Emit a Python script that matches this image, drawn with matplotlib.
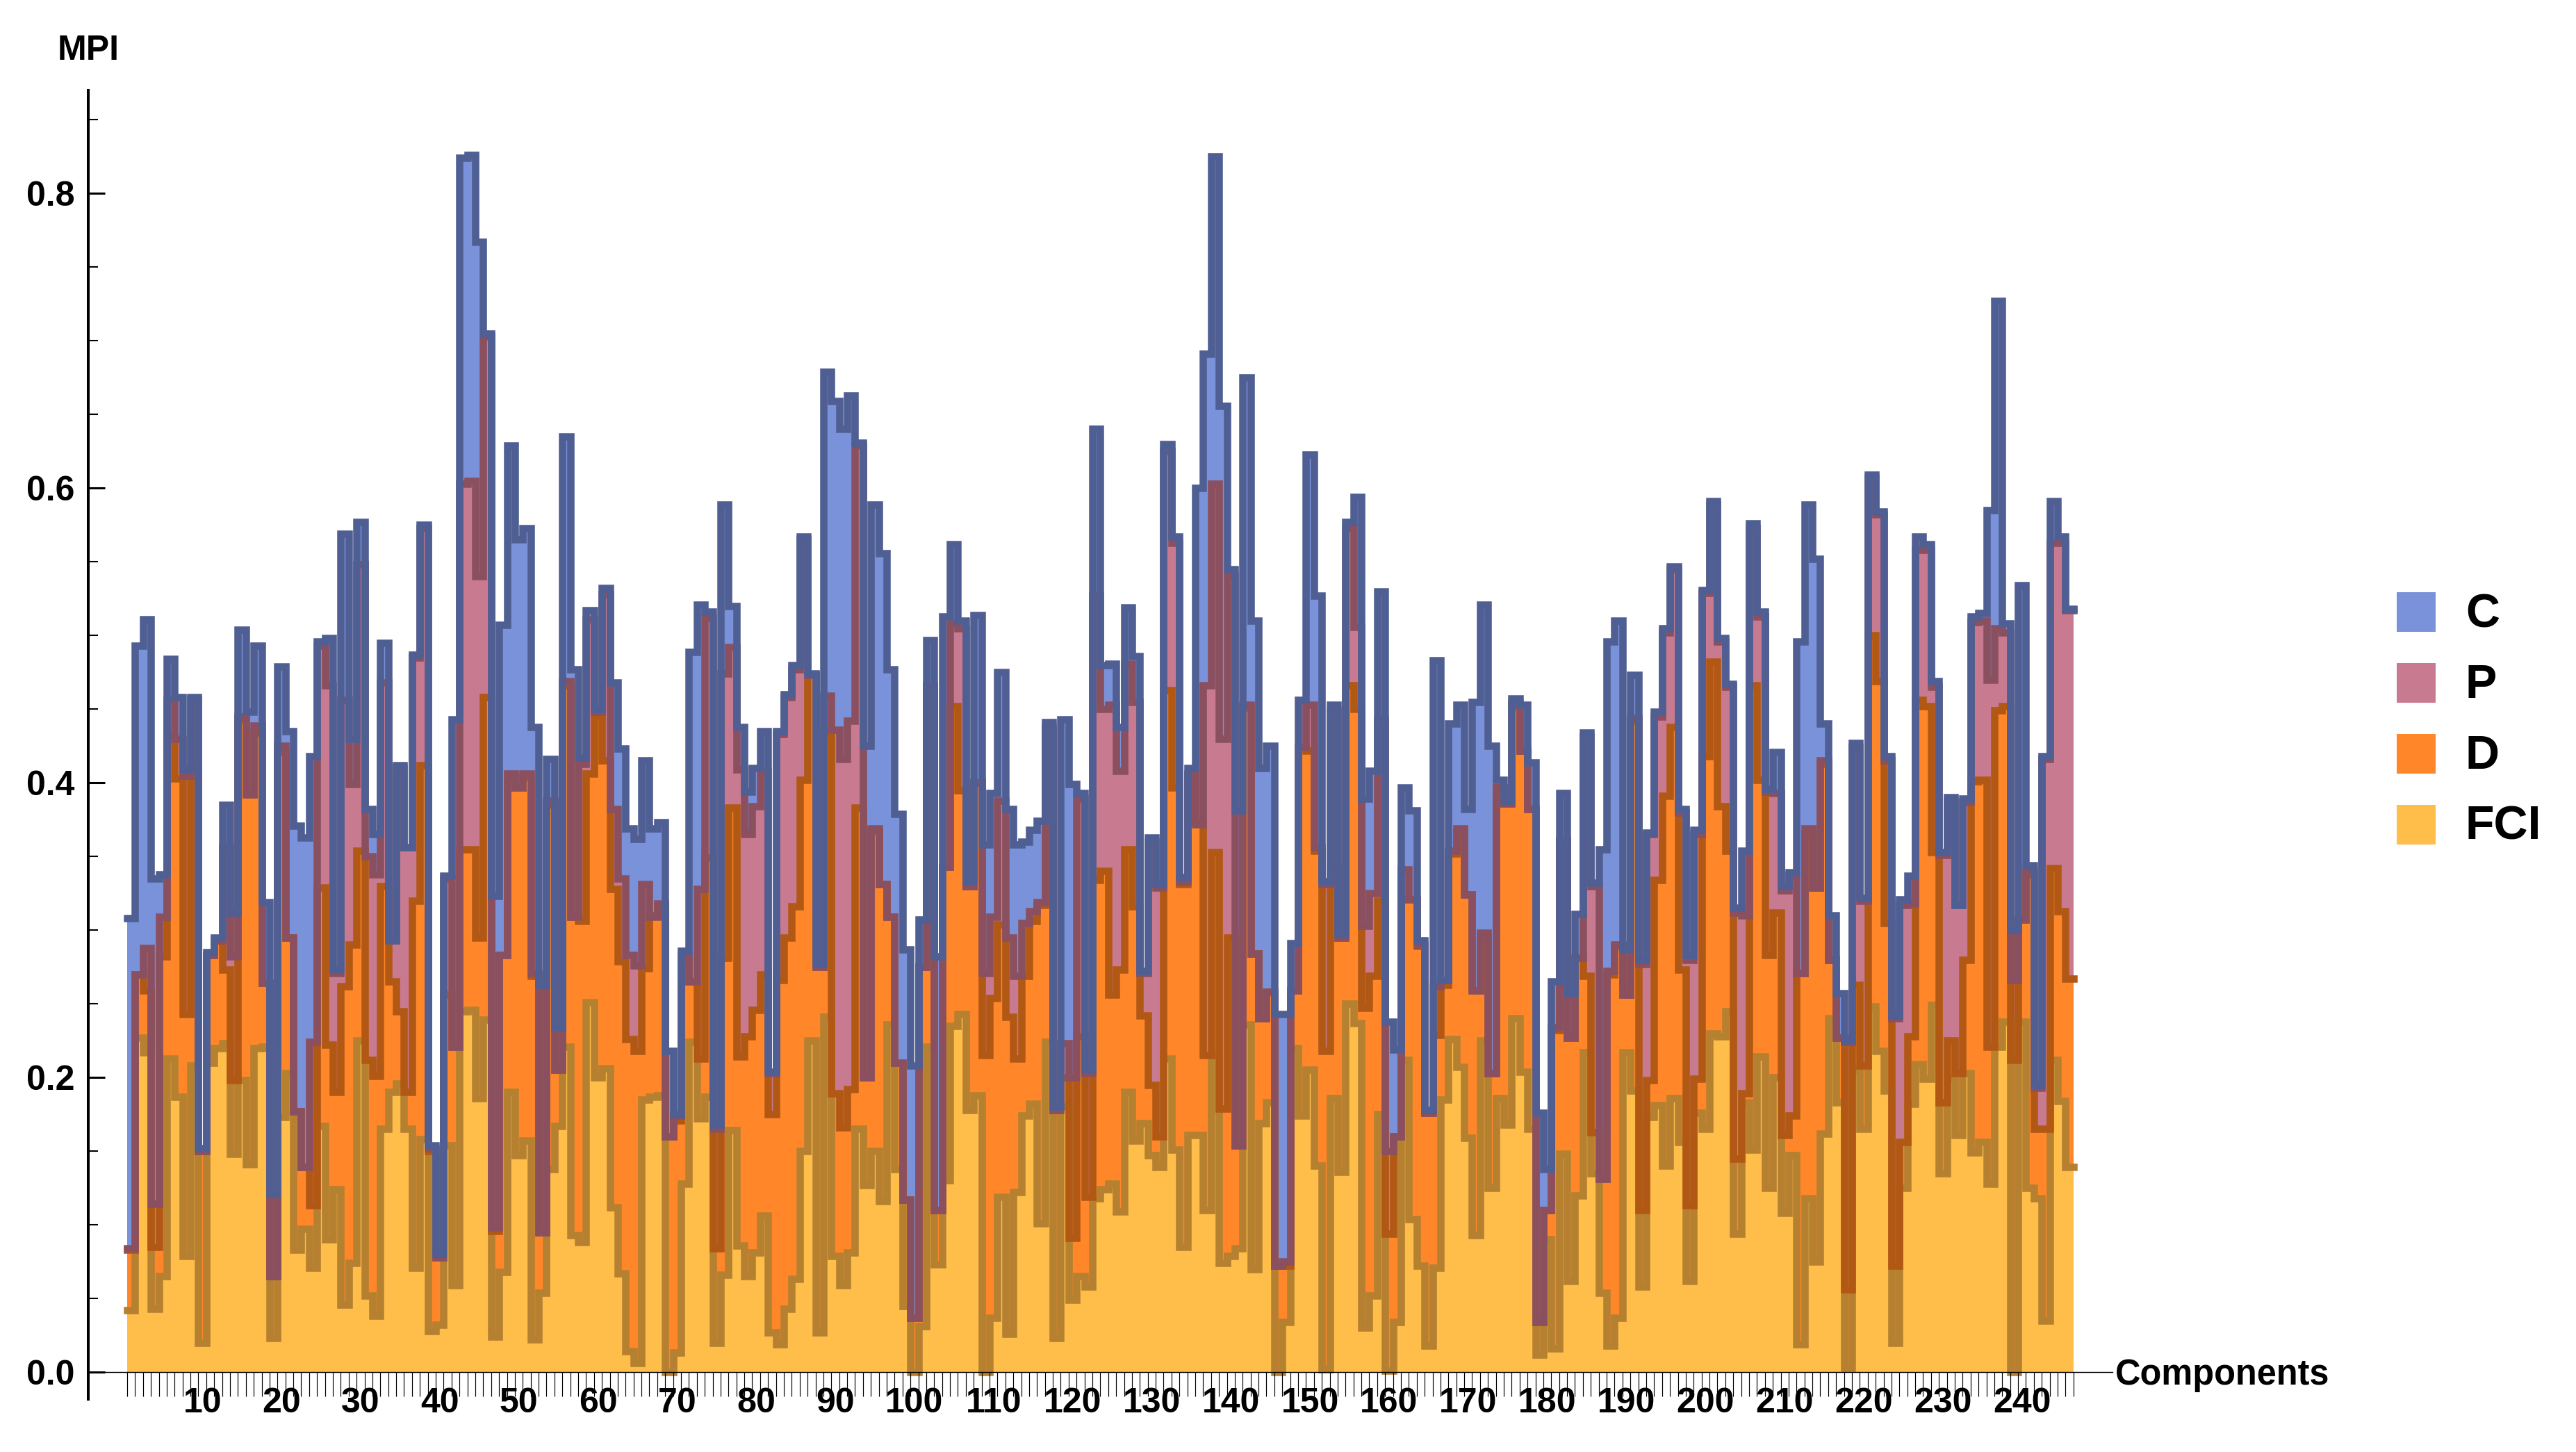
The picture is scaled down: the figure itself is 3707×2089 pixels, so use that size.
import numpy as np
import matplotlib
matplotlib.use("Agg")
import matplotlib.pyplot as plt
from matplotlib.patches import Rectangle

plt.rcParams['font.family'] = ['Liberation Sans', 'DejaVu Sans']
plt.rcParams['font.weight'] = 'bold'

# MPI values for components 1..246, one list per series
C = [.308,.493,.511,.335,.338,.484,.458,.409,.458,.152,
     .285,.295,.385,.312,.504,.448,.493,.319,.121,.479,
     .435,.371,.363,.418,.496,.498,.273,.569,.430,.577,
     .382,.365,.495,.293,.412,.356,.487,.575,.154,.080,
     .337,.443,.824,.826,.767,.705,.323,.507,.629,.565,
     .573,.438,.263,.416,.234,.635,.477,.417,.517,.450,
     .532,.468,.423,.369,.362,.415,.369,.373,.218,.175,
     .286,.489,.521,.516,.168,.589,.520,.438,.394,.410,
     .435,.204,.435,.460,.480,.567,.474,.277,.679,.659,
     .640,.663,.631,.425,.589,.556,.477,.379,.287,.208,
     .307,.497,.282,.513,.562,.510,.333,.514,.358,.393,
     .475,.382,.358,.360,.368,.374,.441,.180,.443,.399,
     .393,.205,.640,.480,.481,.438,.519,.486,.272,.363,
     .331,.630,.567,.336,.410,.600,.691,.825,.656,.545,
     .381,.675,.510,.410,.425,.243,.243,.291,.456,.623,
     .527,.333,.453,.297,.577,.594,.389,.408,.530,.238,
     .219,.397,.381,.293,.178,.483,.266,.440,.453,.382,
     .455,.521,.425,.402,.388,.457,.453,.414,.176,.138,
     .265,.393,.257,.311,.434,.332,.355,.496,.510,.287,
     .473,.280,.366,.448,.505,.547,.382,.283,.368,.531,
     .591,.498,.467,.315,.354,.576,.516,.396,.421,.330,
     .339,.496,.589,.552,.440,.310,.257,.225,.427,.322,
     .609,.584,.418,.242,.321,.337,.567,.562,.469,.353,
     .390,.317,.389,.513,.515,.585,.727,.508,.300,.534,
     .344,.195,.418,.591,.567,.518]

P = [.084,.270,.288,.114,.309,.456,.430,.405,.456,.150,
     .283,.293,.356,.282,.445,.392,.439,.264,.065,.425,
     .295,.177,.139,.224,.493,.466,.271,.456,.399,.548,
     .350,.338,.468,.293,.410,.356,.485,.573,.152,.078,
     .335,.221,.603,.605,.540,.703,.098,.283,.406,.397,
     .406,.271,.095,.388,.205,.469,.309,.413,.511,.448,
     .528,.382,.335,.283,.276,.331,.309,.318,.160,.174,
     .283,.265,.328,.512,.165,.474,.492,.409,.365,.384,
     .408,.203,.433,.458,.477,.565,.473,.275,.459,.436,
     .416,.442,.629,.200,.369,.331,.309,.210,.117,.037,
     .275,.466,.110,.343,.508,.505,.330,.400,.271,.309,
     .388,.295,.269,.305,.313,.319,.438,.178,.223,.200,
     .389,.203,.527,.450,.453,.408,.481,.455,.271,.360,
     .329,.625,.563,.333,.406,.372,.466,.603,.430,.541,
     .154,.453,.284,.240,.258,.072,.075,.259,.424,.453,
     .356,.331,.449,.295,.573,.506,.303,.325,.443,.150,
     .160,.341,.321,.290,.176,.262,.266,.354,.369,.324,
     .259,.298,.203,.397,.386,.454,.422,.382,.034,.110,
     .234,.361,.227,.281,.431,.330,.131,.272,.290,.256,
     .444,.277,.365,.445,.502,.545,.380,.280,.365,.529,
     .589,.496,.465,.312,.310,.573,.513,.394,.393,.327,
     .337,.271,.369,.329,.415,.280,.227,.224,.424,.320,
     .607,.582,.415,.240,.317,.318,.558,.558,.465,.351,
     .388,.317,.387,.509,.510,.470,.505,.502,.266,.307,
     .340,.193,.416,.563,.563,.517]

D = [.083,.270,.259,.085,.282,.432,.403,.243,.408,.150,
     .283,.293,.273,.198,.443,.392,.434,.264,.065,.421,
     .295,.177,.139,.113,.329,.222,.190,.262,.290,.354,
     .212,.201,.330,.265,.245,.190,.320,.412,.150,.078,
     .256,.221,.355,.355,.295,.458,.096,.283,.405,.397,
     .404,.269,.095,.385,.205,.466,.309,.306,.406,.446,
     .415,.328,.279,.226,.218,.274,.310,.317,.160,.171,
     .280,.265,.213,.349,.084,.281,.383,.214,.228,.246,
     .270,.175,.266,.295,.316,.402,.473,.275,.434,.189,
     .166,.192,.383,.200,.367,.331,.309,.210,.117,.037,
     .275,.465,.110,.343,.452,.395,.330,.400,.215,.254,
     .304,.241,.213,.269,.306,.317,.436,.178,.200,.091,
     .228,.119,.334,.340,.256,.273,.355,.316,.242,.195,
     .160,.463,.397,.331,.405,.373,.215,.353,.179,.295,
     .154,.451,.284,.240,.258,.072,.072,.259,.424,.422,
     .354,.218,.343,.295,.466,.450,.247,.269,.320,.094,
     .160,.321,.321,.289,.176,.229,.263,.352,.367,.324,
     .259,.296,.203,.397,.386,.452,.422,.382,.034,.110,
     .232,.361,.227,.281,.269,.163,.131,.270,.289,.256,
     .442,.110,.198,.334,.391,.438,.273,.113,.199,.418,
     .482,.384,.354,.145,.189,.466,.402,.283,.312,.161,
     .174,.271,.365,.329,.413,.280,.227,.056,.263,.208,
     .500,.469,.305,.072,.156,.228,.456,.452,.353,.183,
     .225,.203,.280,.401,.402,.221,.449,.452,.212,.307,
     .338,.165,.165,.342,.313,.267]

FCI = [.042,.227,.217,.043,.065,.213,.187,.079,.208,.020,
       .210,.220,.223,.148,.198,.141,.220,.221,.023,.173,
       .203,.083,.097,.071,.167,.090,.124,.046,.074,.225,
       .052,.038,.165,.190,.196,.165,.071,.158,.028,.032,
       .154,.059,.245,.246,.186,.239,.024,.068,.190,.147,
       .157,.022,.054,.138,.167,.221,.093,.088,.251,.200,
       .206,.112,.067,.014,.006,.185,.187,.188,.000,.013,
       .128,.224,.172,.187,.020,.066,.164,.086,.065,.081,
       .106,.027,.019,.043,.063,.150,.225,.027,.241,.079,
       .059,.081,.165,.127,.150,.116,.236,.138,.045,.000,
       .031,.221,.073,.130,.235,.243,.178,.188,.000,.037,
       .119,.026,.122,.174,.182,.101,.224,.023,.180,.049,
       .065,.058,.118,.124,.128,.109,.190,.157,.169,.147,
       .139,.213,.151,.085,.161,.161,.110,.215,.074,.079,
       .084,.236,.070,.169,.183,.000,.034,.220,.174,.205,
       .140,.002,.186,.136,.250,.237,.030,.052,.175,.001,
       .034,.212,.104,.072,.018,.071,.185,.226,.207,.159,
       .093,.225,.125,.186,.168,.240,.204,.165,.012,.090,
       .016,.148,.062,.120,.217,.135,.054,.018,.037,.217,
       .191,.058,.173,.181,.140,.186,.156,.062,.176,.165,
       .230,.228,.245,.094,.183,.151,.214,.125,.200,.108,
       .147,.019,.118,.075,.162,.240,.183,.003,.205,.165,
       .248,.218,.191,.020,.125,.182,.209,.199,.249,.135,
       .200,.161,.203,.149,.156,.128,.221,.238,.000,.238,
       .125,.118,.035,.212,.184,.139]

series_names = ["C", "P", "D", "FCI"]
fill_colors = ["#7A92DA", "#C87B90", "#FF8729", "#FFBD4A"]
edge_colors = ["#4F5F93", "#8A5060", "#B25815", "#B58030"]
y_major = [0.0, 0.2, 0.4, 0.6, 0.8]
y_minor = [0.05 * i for i in range(18)]
x_labels = list(range(10, 250, 10))

W, H = 3707, 2089
fig = plt.figure(figsize=(W / 100, H / 100), dpi=100)
ax = fig.add_axes([127 / W, 1 - 2013 / H, (3040 - 127) / W, (2013 - 130) / H])

edges = np.arange(len(C) + 1) + 0.5
all_series = [C, P, D, FCI]

# fills first, largest series at the back
for vals, col in zip(all_series, fill_colors):
    ax.stairs(vals, edges, baseline=0, fill=True, facecolor=col, edgecolor='none', linewidth=0)

# outlines go on top, FCI first and C last
for vals, col in reversed(list(zip(all_series, edge_colors))):
    ax.stairs(vals, edges, baseline=None, color=col, linewidth=7.6,
              capstyle='projecting', joinstyle='miter')

ax.set_xlim(-4.42, 251.44)
ax.set_ylim(-0.0184, 0.870)

for side in ['top', 'right']:
    ax.spines[side].set_visible(False)
ax.spines['left'].set_linewidth(2.9)
ax.spines['bottom'].set_position(('data', 0))
ax.spines['bottom'].set_linewidth(1.0)

ax.set_yticks(y_major)
ax.set_yticklabels(["%.1f" % v for v in y_major], fontsize=36, fontweight='bold')
ax.set_yticks(y_minor, minor=True)
ax.tick_params(axis='y', which='major', direction='in', length=17, width=2.2, pad=14)
ax.tick_params(axis='y', which='minor', direction='in', length=10, width=1.5)

ax.set_xticks(x_labels)
ax.set_xticklabels([str(v) for v in x_labels], fontsize=36, fontweight='bold')
ax.set_xticks(edges, minor=True)
ax.tick_params(axis='x', which='major', length=0, pad=16)
ax.tick_params(axis='x', which='minor', direction='out', length=25, width=0.85)

fig.text(83 / W, 1 - 86 / H, "MPI", fontsize=36, fontweight='bold', va='baseline')
fig.text(3044 / W, 1 - 1992 / H, "Components", fontsize=36.4, fontweight='bold', va='baseline')

# legend by hand, it sits outside the axes
for i, (name, col) in enumerate(zip(series_names, fill_colors)):
    top = 852 + 102 * i
    fig.add_artist(Rectangle((3449 / W, 1 - (top + 57) / H), 56 / W, 57 / H,
                             transform=fig.transFigure, facecolor=col, edgecolor='none'))
    fig.text(3548 / W, 1 - (top + 50) / H, name, fontsize=49, fontweight='bold', va='baseline')

fig.savefig("out.png", dpi=100)
